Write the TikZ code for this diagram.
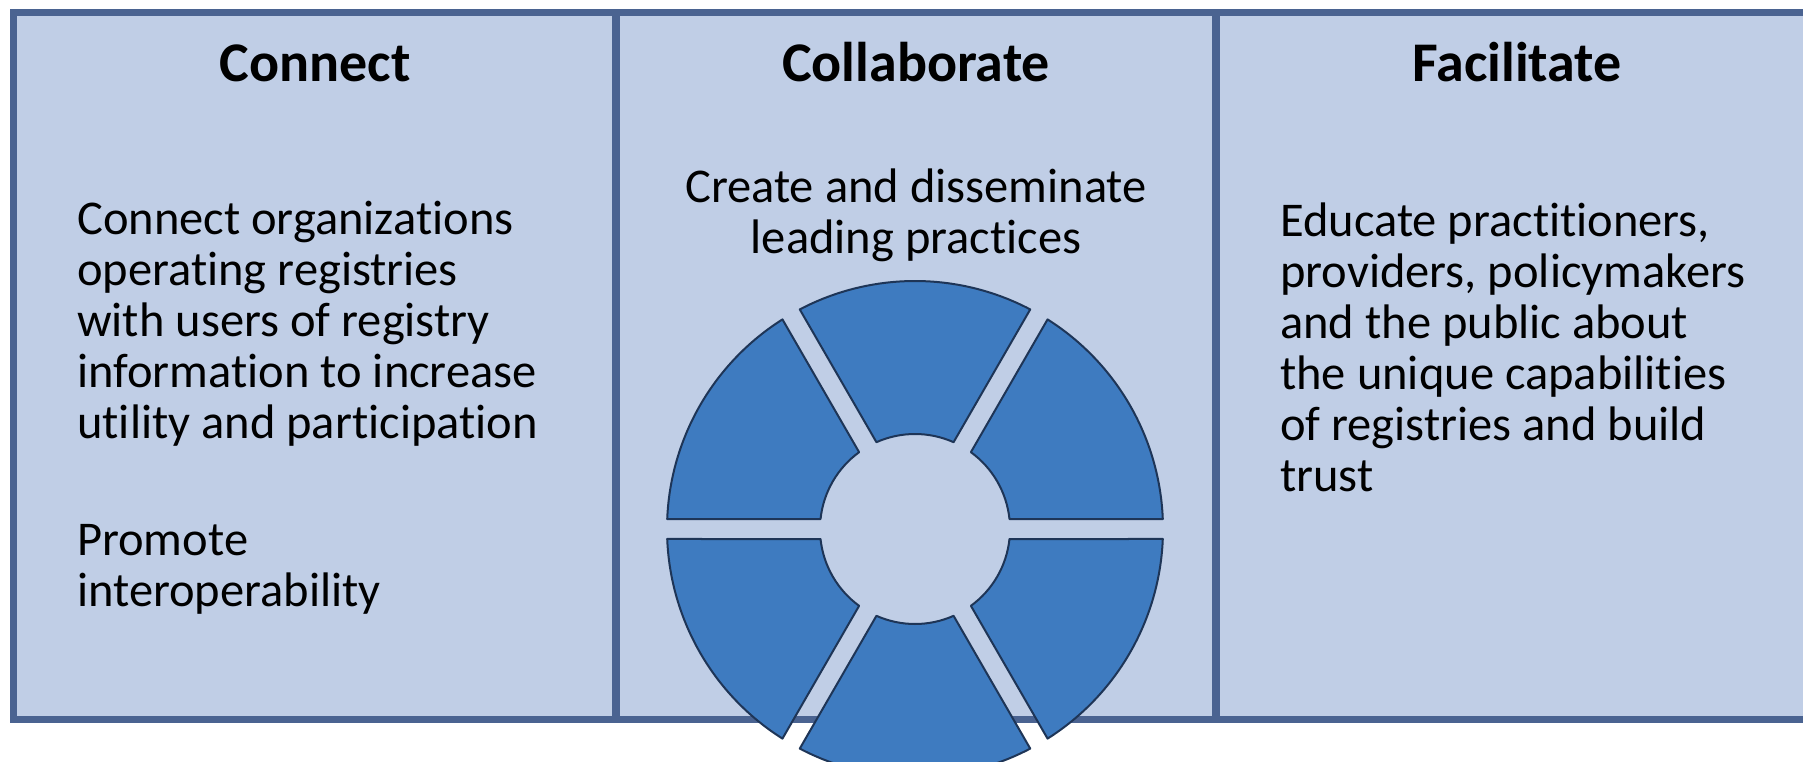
\documentclass[tikz,border=0pt]{standalone}
\usepackage{fontspec}
\setmainfont{Carlito}[Ligatures=NoCommon]
\definecolor{panelfill}{HTML}{C0CEE6}
\definecolor{framecol}{HTML}{4A6391}
\definecolor{segfill}{HTML}{3E7BC0}
\definecolor{segline}{HTML}{1E3557}
\tikzset{
  headtext/.style={anchor=base, inner sep=0pt, font=\bfseries\fontsize{56}{67}\selectfont},
  bodytext/.style={inner sep=0pt, font=\fontsize{48.5}{51}\selectfont},
  framerule/.style={draw=framecol, line width=7pt},
  divrule/.style={draw=framecol, line width=8pt},
  segpiece/.style={fill=segfill, draw=segline, line width=2pt, line join=round}
}
\begin{document}
\begin{tikzpicture}[x=1pt,y=-1pt]
\useasboundingbox[fill=white] (0,0) rectangle (1803,762);
% panel
\fill[panelfill] (13.5,12.5) rectangle (1830,719);
\draw[framerule] (13.5,12.5) rectangle (1830,719);
\coordinate (d1t) at (616,12.5);
\coordinate (d1b) at (616,719);
\coordinate (d2t) at (1216,12.5);
\coordinate (d2b) at (1216,719);
\draw[divrule] (d1t) -- (d1b);
\draw[divrule] (d2t) -- (d2b);
% headings
\node[headtext] (h1) at (315,82) {Connect};
\node[headtext] (h2) at (916,82) {Collaborate};
\node[headtext] (h3) at (1517,82) {Facilitate};
% body texts (base anchor = baseline of the last line)
\node[bodytext, anchor=base west, align=left] (t1) at (77,438)
  {Connect organizations\\operating registries\\with users of registry\\information to increase\\utility and participation};
\node[bodytext, anchor=base west, align=left] (t2) at (77,606)
  {Promote\\interoperability};
\node[bodytext, anchor=base, align=center] (t3) at (916,253)
  {Create and disseminate\\leading practices};
\node[bodytext, anchor=base west, align=left] (t4) at (1280,491)
  {Educate practitioners,\\providers, policymakers\\and the public about\\the unique capabilities\\of registries and build\\trust};
% wheel
\coordinate (wc) at (915,529);
\foreach \k in {0,...,5}{
  \pgfmathsetmacro\aa{60*\k+2.311}
  \pgfmathsetmacro\ab{60*\k+60-2.311}
  \pgfmathsetmacro\ac{60*\k+60-6.042}
  \pgfmathsetmacro\ad{60*\k+6.042}
  \draw[segpiece] ([shift={(\aa:248pt)}]wc) arc[start angle=\aa, end angle=\ab, radius=248pt]
    -- ([shift={(\ac:95pt)}]wc) arc[start angle=\ac, end angle=\ad, radius=95pt] -- cycle;
}
\end{tikzpicture}
\end{document}
